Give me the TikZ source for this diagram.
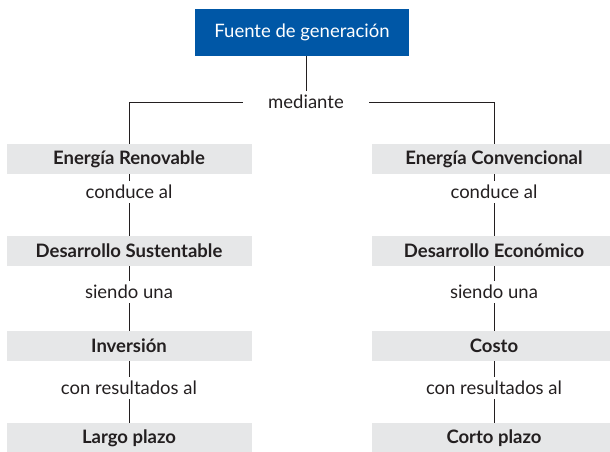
\documentclass[tikz,border=0pt]{standalone}
\usepackage{fontspec}
\setmainfont{Lato}
\usetikzlibrary{positioning}
\definecolor{titleblue}{RGB}{0,87,166}
\definecolor{boxgray}{RGB}{230,231,232}
\definecolor{inkgray}{RGB}{35,31,32}
\begin{document}
\begin{tikzpicture}[x=1pt, y=-1pt, node distance={92pt}, thick, draw=inkgray, text=inkgray, font=\fontsize{18.5}{22}\selectfont,
	title/.style = {fill=titleblue, text=white, minimum width=214pt, minimum height=47pt, inner sep=0pt},
	concept/.style = {fill=boxgray, font=\fontsize{18.5}{22}\selectfont\bfseries, minimum width=245pt, minimum height=30pt, inner sep=0pt},
	link/.style = {inner xsep=2pt, inner ysep=4pt}]
			\useasboundingbox (0,0) rectangle (610,451);
			\node[title] (fuente) at (302,32.5) {Fuente de generación};
			\node[link] (mediante) at (306,102) [inner xsep=25pt] {mediante};
			% izquierda
			\node[concept] (renovable) at (129,159) {Energía Renovable};
			\node[link] (conduce1) [below of=renovable, node distance=33pt] {conduce al};
			\node[concept] (sustentable) [below of=renovable] {Desarrollo Sustentable};
			\node[link] (siendo1) [below of=sustentable, node distance=41pt] {siendo una};
			\node[concept] (inversion) [below of=sustentable, node distance=95pt] {Inversión};
			\node[link] (resultados1) [below of=inversion, node distance=42pt] {con resultados al};
			\node[concept] (largo) [below of=inversion] {Largo plazo};
			% derecha
			\node[concept] (convencional) at (494,159) {Energía Convencional};
			\node[link] (conduce2) [below of=convencional, node distance=33pt] {conduce al};
			\node[concept] (economico) [below of=convencional] {Desarrollo Económico};
			\node[link] (siendo2) [below of=economico, node distance=41pt] {siendo una};
			\node[concept] (costo) [below of=economico, node distance=95pt] {Costo};
			\node[link] (resultados2) [below of=costo, node distance=42pt] {con resultados al};
			\node[concept] (corto) [below of=costo] {Corto plazo};
			\draw (fuente.south -| mediante) -- (mediante);
			\draw (mediante) -| (renovable);
			\draw (mediante) -| (convencional);
			\path[draw]
			(renovable) -- (conduce1) (conduce1) -- (sustentable)
			(sustentable) -- (siendo1) (siendo1) -- (inversion)
			(inversion) -- (resultados1) (resultados1) -- (largo)
			(convencional) -- (conduce2) (conduce2) -- (economico)
			(economico) -- (siendo2) (siendo2) -- (costo)
			(costo) -- (resultados2) (resultados2) -- (corto);
		\end{tikzpicture}
\end{document}
